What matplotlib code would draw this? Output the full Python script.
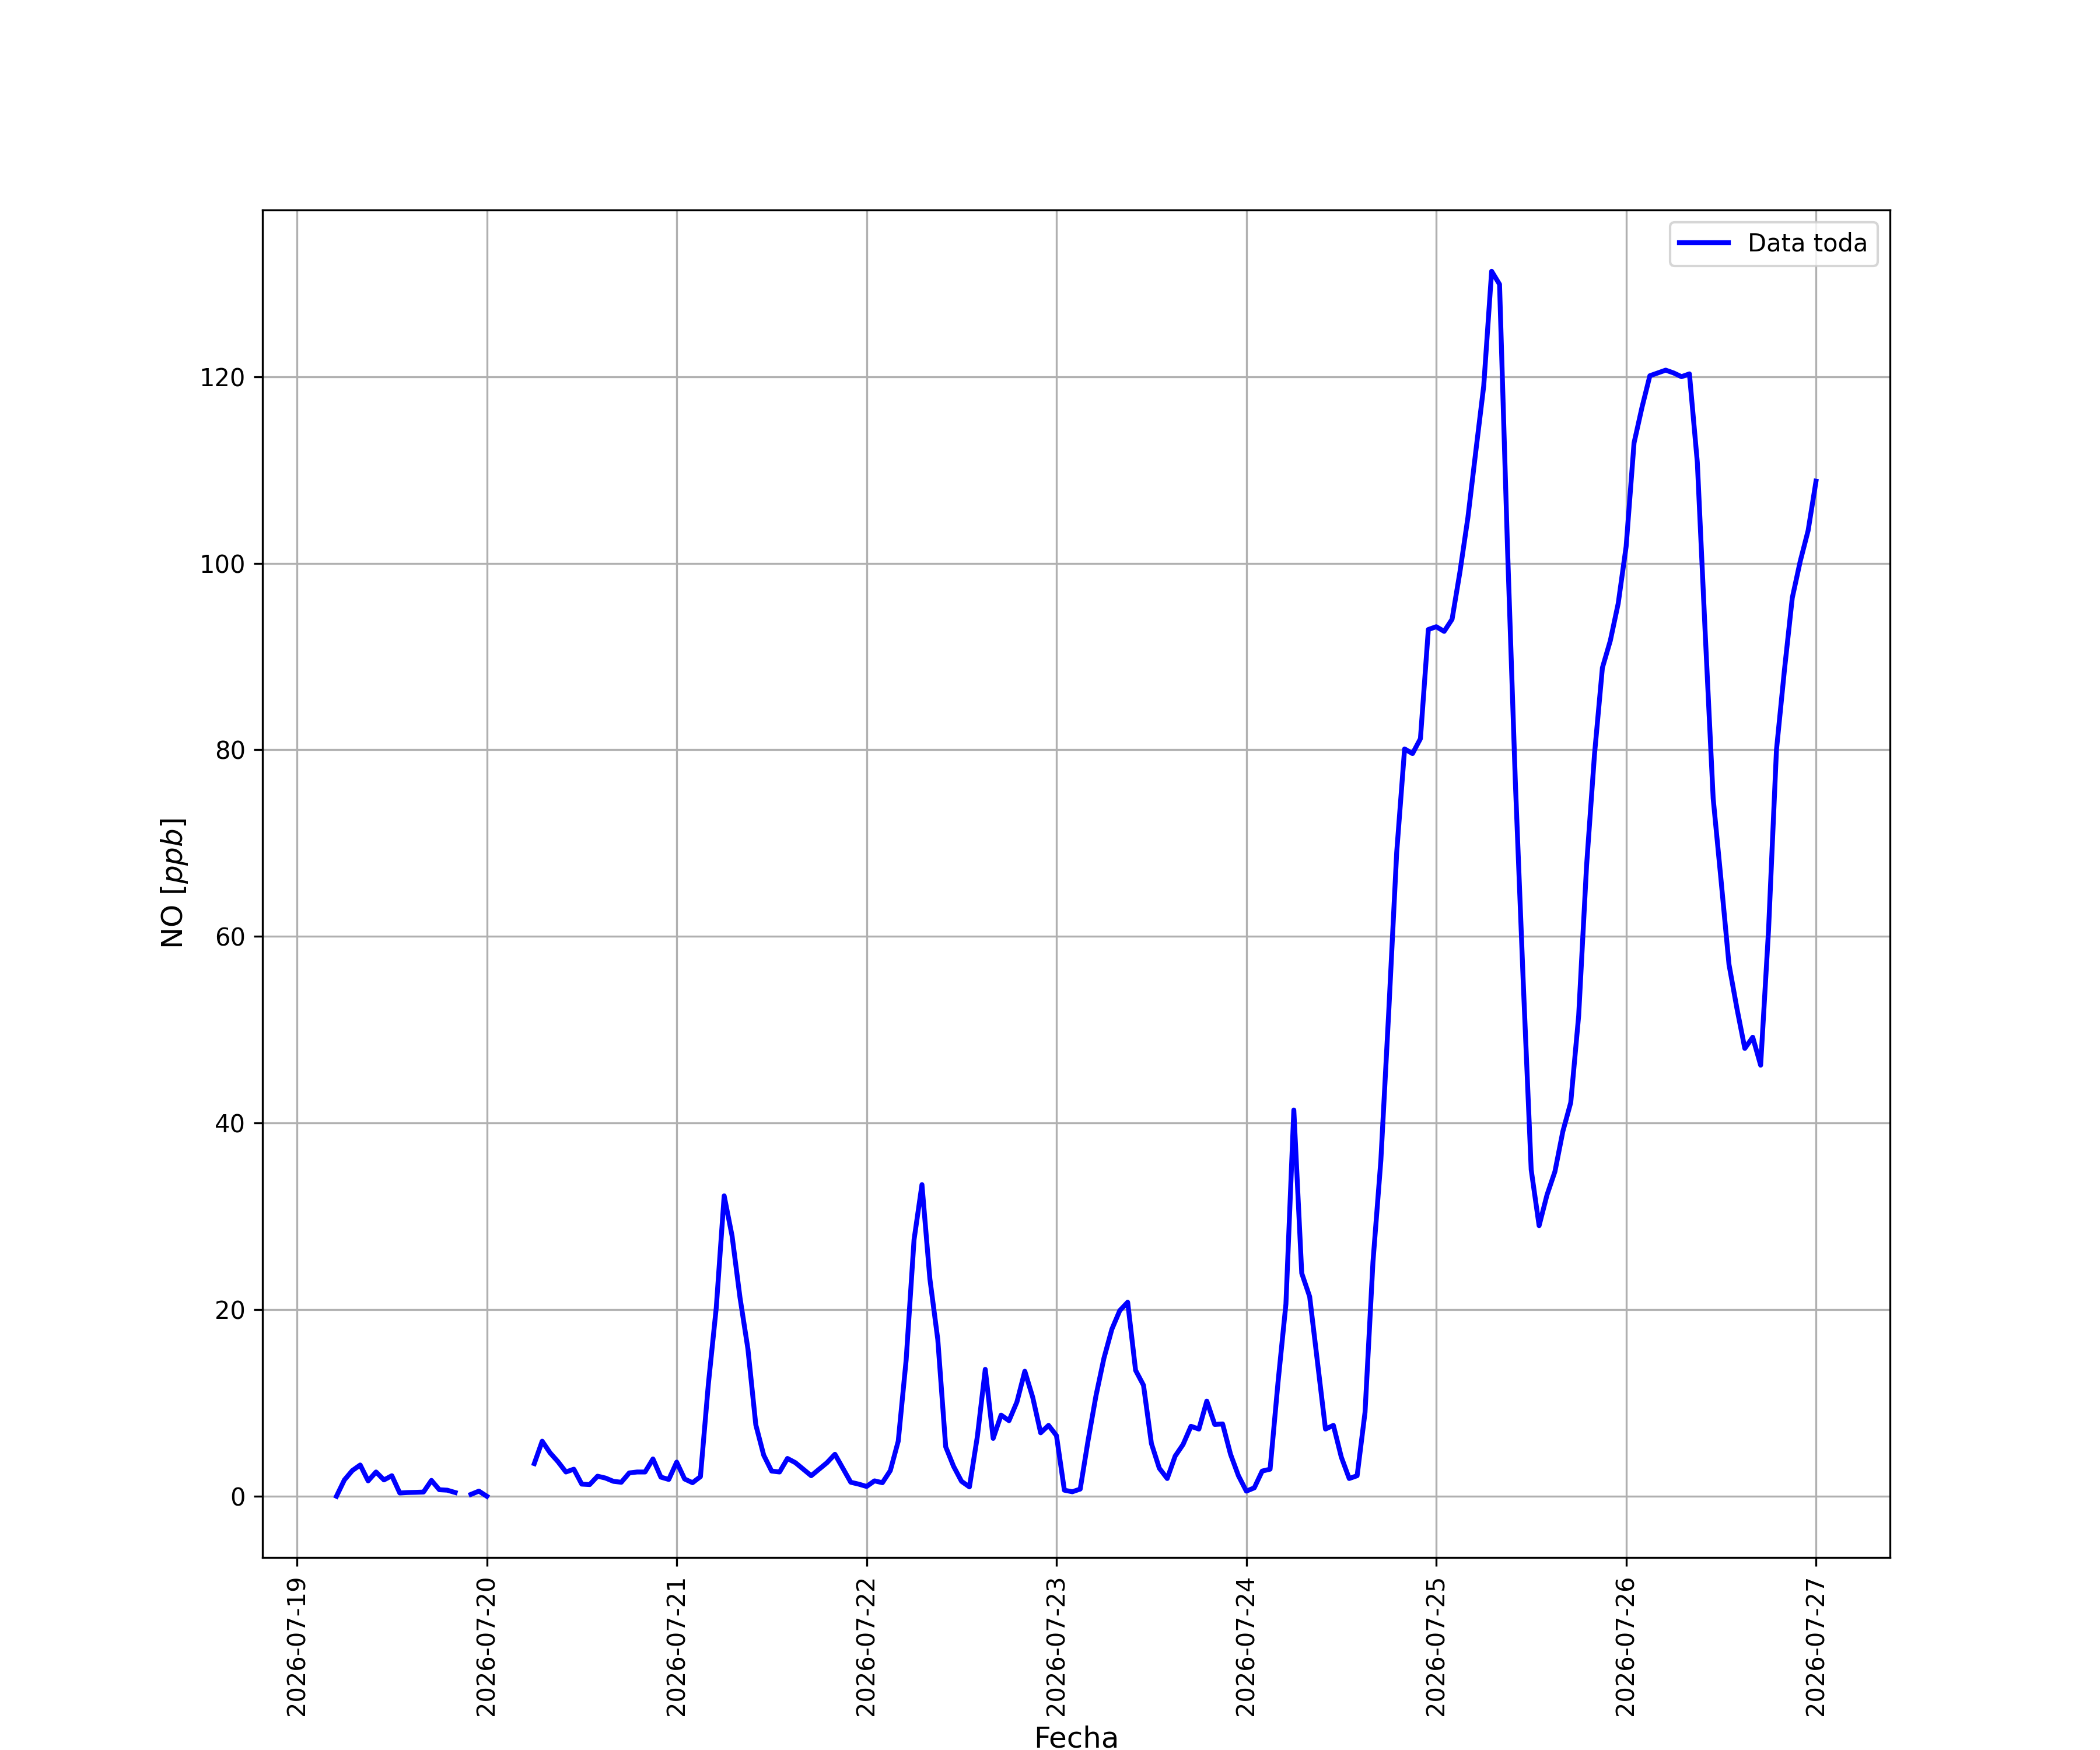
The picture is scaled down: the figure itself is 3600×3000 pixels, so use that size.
import numpy as np
import pandas as pd
import matplotlib
matplotlib.use("Agg")
import matplotlib.pyplot as plt

nan = np.nan

start = "2026-07-19 05:00"

# Hourly NO values [ppb]
day19 = [0.0, 1.75, 2.75, 3.35, 1.65, 2.6, 1.75, 2.2, 0.35, 0.4, 0.42, 0.45,
         1.7, 0.7, 0.65, 0.4, nan, 0.2, 0.55]                      # 05..23 h
day20 = [0.0, nan, nan, nan, nan, nan, 3.5, 5.9, 4.65, 3.7, 2.6, 2.9,
         1.3, 1.25, 2.15, 1.95, 1.6, 1.5, 2.5, 2.6, 2.6, 4.0, 2.05, 1.8]
day21 = [3.66, 1.85, 1.45, 2.1, 12.0, 20.2, 32.2, 27.9, 21.3, 15.8, 7.65, 4.4,
         2.7, 2.6, 4.05, 3.6, 2.9, 2.2, 2.9, 3.6, 4.5, 3.0, 1.5, 1.3]
day22 = [1.05, 1.65, 1.45, 2.75, 5.9, 14.6, 27.5, 33.4, 23.3, 16.8, 5.3, 3.2,
         1.6, 1.0, 6.4, 13.6, 6.2, 8.7, 8.1, 10.1, 13.4, 10.6, 6.8, 7.6]
day23 = [6.5, 0.65, 0.48, 0.77, 6.0, 10.8, 14.8, 17.9, 19.9, 20.8, 13.5, 11.9,
         5.65, 3.0, 1.9, 4.3, 5.55, 7.5, 7.2, 10.2, 7.7, 7.75, 4.5, 2.2]
day24 = [0.55, 0.9, 2.7, 2.9, 12.2, 20.6, 41.4, 23.9, 21.4, 14.3, 7.2, 7.6,
         4.2, 1.9, 2.2, 9.0, 25.1, 36.0, 52.0, 69.0, 80.1, 79.6, 81.2, 92.9]
day25 = [93.2, 92.7, 94.0, 99.1, 104.9, 112.0, 119.0, 131.3, 129.9, 101.8, 76.5, 55.0,
         35.0, 29.0, 32.3, 34.8, 39.1, 42.2, 51.5, 67.6, 79.5, 88.8, 91.7, 95.7]
day26 = [101.8, 112.9, 116.7, 120.1, 120.4, 120.7, 120.4, 120.0, 120.3, 110.8, 92.4, 74.8,
         66.0, 57.0, 52.3, 48.0, 49.2, 46.2, 60.7, 80.0, 88.5, 96.3, 100.2, 103.5]
day27 = [108.8]

values = day19 + day20 + day21 + day22 + day23 + day24 + day25 + day26 + day27
fechas = pd.date_range(start, periods=len(values), freq="h")

fig, ax = plt.subplots(figsize=(12, 10), dpi=300)
ax.plot(fechas, values, color="blue", linewidth=2, label="Data toda")
ax.grid(True)
ax.set_xlabel("Fecha", fontsize=12)
ax.set_ylabel("NO [$ppb$]", fontsize=12)
ax.legend(loc="upper right")
plt.setp(ax.get_xticklabels(), rotation=90)
fig.savefig("out.png", dpi=300)
